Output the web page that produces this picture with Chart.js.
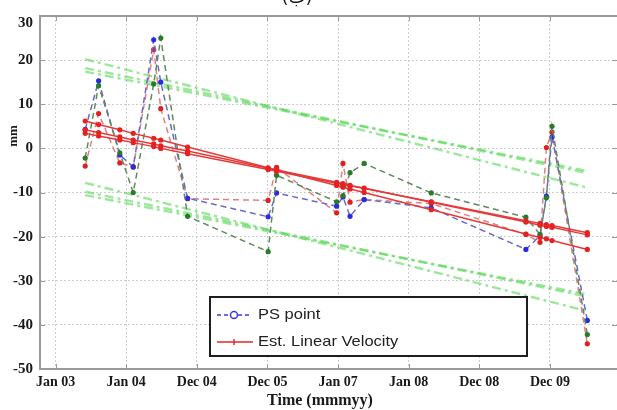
<!DOCTYPE html>
<html>
<head>
<meta charset="utf-8">
<script src="https://cdn.jsdelivr.net/npm/chart.js@4.4.1/dist/chart.umd.min.js"></script>
<style>
  html, body { margin: 0; padding: 0; background: #ffffff; }
  #wrap { position: relative; width: 617px; height: 410px; }
</style>
</head>
<body>
<div id="wrap"><canvas id="chart" width="617" height="410"></canvas></div>
<script>
/* global Chart */

// time axis in "tick units": 0 = Jan 03, 1 = Jan 04 ... 7 = Dec 09
const X_TICK_LABELS = ["Jan 03", "Jan 04", "Dec 04", "Dec 05", "Jan 07", "Jan 08", "Dec 08", "Dec 09"];
const Y_TICKS = [-50, -40, -30, -20, -10, 0, 10, 20, 30];

const OBS_TIME = [0.42, 0.61, 0.91, 1.10, 1.39, 1.49, 1.87, 3.01, 3.13, 3.98, 4.07, 4.17, 4.37, 5.32, 6.66, 6.86, 6.95, 7.03, 7.53];

// PS point displacement series (mm)
const PS_BLUE = [4.3, 15.3, -1.5, -4.2, 24.6, 15.0, -11.3, -15.5, -10.1, -13.1, -11.0, -15.4, -11.6, -13.5, -22.9, -19.8, -10.8, 2.6, -39.0];
const PS_GREEN = [-2.2, 14.2, -1.0, -10.0, 14.6, 25.0, -15.4, -23.4, -6.1, -12.1, -10.7, -5.5, -3.4, -10.1, -15.6, -19.5, -11.2, 5.0, -42.2];
const PS_RED = [-4.0, 7.9, -3.3, -4.2, 22.4, 9.0, -11.4, -11.8, -4.3, -14.6, -3.4, -12.2, -11.6, -12.5, -19.5, -21.3, 0.2, 3.7, -44.3];

// estimated linear velocity lines (mm)
const VEL_A = [6.2, 5.4, 4.2, 3.4, 2.3, 1.9, 0.3, -4.4, -4.9, -8.4, -8.8, -9.2, -10.0, -13.9, -19.4, -20.2, -20.5, -20.9, -22.9];
const VEL_B = [4.2, 3.6, 2.6, 1.9, 1.0, 0.6, -0.6, -4.5, -4.9, -7.7, -8.0, -8.4, -9.0, -12.2, -16.7, -17.4, -17.7, -17.9, -19.6];
const VEL_C = [3.4, 2.8, 1.9, 1.3, 0.4, 0.0, -1.2, -4.8, -5.2, -7.9, -8.2, -8.5, -9.1, -12.1, -16.4, -17.0, -17.3, -17.5, -19.1];

// confidence bands (start, end)
const BAND_TIME = [0.42, 7.53];
const BAND_UPPER_A = [20.2, -8.9];
const BAND_UPPER_B = [18.2, -5.6];
const BAND_UPPER_C = [17.4, -5.1];
const BAND_LOWER_A = [-7.8, -36.9];
const BAND_LOWER_B = [-9.8, -33.6];
const BAND_LOWER_C = [-10.6, -33.1];

const LEGEND_PS = "PS point";
const LEGEND_VEL = "Est. Linear Velocity";
const X_TITLE = "Time (mmmyy)";
const Y_TITLE = "mm";
const PANEL_TITLE = "(ب)";

const SERIF = "'Liberation Serif', 'Times New Roman', serif";
const FRAME_COLOR = "#9a9a9a";

function toPoints(times, values) {
    return times.map((t, i) => ({ x: t, y: values[i] }));
}

function psDataset(values, lineColor, markColor) {
    return {
        data: toPoints(OBS_TIME, values),
        borderColor: lineColor,
        borderWidth: 1.5,
        borderDash: [6, 4],
        pointRadius: 2.6,
        pointBackgroundColor: markColor,
        pointBorderColor: markColor,
        pointBorderWidth: 0,
        order: 1,
    };
}

function velDataset(values) {
    return {
        data: toPoints(OBS_TIME, values),
        borderColor: "#e43a3a",
        borderWidth: 1.5,
        pointRadius: 2.6,
        pointBackgroundColor: "#e42222",
        pointBorderWidth: 0,
        order: 0,
    };
}

function bandDataset(values) {
    return {
        data: toPoints(BAND_TIME, values),
        borderColor: "rgba(90, 215, 90, 0.6)",
        borderWidth: 2.4,
        borderDash: [9, 4, 3, 4],
        pointRadius: 0,
        order: 2,
    };
}

const decor = {
    id: "decor",
    beforeDatasetsDraw(chart) {
        const { ctx, chartArea: a, scales } = chart;
        ctx.save();
        ctx.strokeStyle = FRAME_COLOR;
        ctx.lineWidth = 1;
        scales.x.ticks.forEach((t) => {
            const x = Math.round(scales.x.getPixelForValue(t.value)) + 0.5;
            ctx.beginPath();
            ctx.moveTo(x, a.bottom); ctx.lineTo(x, a.bottom - 5);
            ctx.moveTo(x, a.top); ctx.lineTo(x, a.top + 5);
            ctx.stroke();
        });
        scales.y.ticks.forEach((t) => {
            const y = Math.round(scales.y.getPixelForValue(t.value)) + 0.5;
            ctx.beginPath();
            ctx.moveTo(a.left, y); ctx.lineTo(a.left + 5, y);
            ctx.moveTo(a.right, y); ctx.lineTo(a.right - 5, y);
            ctx.stroke();
        });
        ctx.restore();
    },
    afterDraw(chart) {
        const { ctx, chartArea: a, scales } = chart;
        ctx.save();
        // frame (right side falls just outside the picture)
        ctx.strokeStyle = FRAME_COLOR;
        ctx.lineWidth = 2;
        ctx.strokeRect(a.left, a.top, a.right - a.left + 2, a.bottom - a.top);

        // top y label sits a little lower in the source
        ctx.fillStyle = "#1a1a1a";
        ctx.font = "bold 15px " + SERIF;
        ctx.textAlign = "right";
        ctx.textBaseline = "middle";
        ctx.fillText(String(Y_TICKS[Y_TICKS.length - 1]), a.left - 7, scales.y.getPixelForValue(30) + 7);

        // axis titles
        ctx.font = "bold 16px " + SERIF;
        ctx.textAlign = "center";
        ctx.fillText(X_TITLE, 320, 401);
        ctx.save();
        ctx.translate(14, 136);
        ctx.rotate(-Math.PI / 2);
        ctx.font = "bold 13px " + SERIF;
        ctx.fillText(Y_TITLE, 0, 0);
        ctx.restore();

        // panel title, cut by the top edge
        ctx.font = "18px 'DejaVu Sans', sans-serif";
        ctx.textBaseline = "alphabetic";
        ctx.fillText(PANEL_TITLE, 297, 3);

        // legend box
        ctx.fillStyle = "#ffffff";
        ctx.fillRect(210, 297, 317, 59);
        ctx.strokeStyle = "#1e1e1e";
        ctx.lineWidth = 2;
        ctx.strokeRect(210, 297, 317, 59);

        ctx.strokeStyle = "#3a3ae0";
        ctx.lineWidth = 1.5;
        ctx.setLineDash([4, 3]);
        ctx.beginPath();
        ctx.moveTo(217, 315); ctx.lineTo(252, 315);
        ctx.stroke();
        ctx.setLineDash([]);
        ctx.fillStyle = "#ffffff";
        ctx.beginPath();
        ctx.arc(234, 315, 3.5, 0, Math.PI * 2);
        ctx.fill();
        ctx.stroke();

        ctx.strokeStyle = "#e42a2a";
        ctx.beginPath();
        ctx.moveTo(217, 342); ctx.lineTo(253, 342);
        ctx.moveTo(234, 339); ctx.lineTo(234, 345);
        ctx.stroke();

        ctx.fillStyle = "#222222";
        ctx.font = "15px 'Liberation Sans', Arial, sans-serif";
        ctx.textAlign = "left";
        ctx.textBaseline = "middle";
        [[LEGEND_PS, 315], [LEGEND_VEL, 342]].forEach(([txt, y]) => {
            ctx.save();
            ctx.translate(258, y);
            ctx.scale(1.1, 1);
            ctx.fillText(txt, 0, 0);
            ctx.restore();
        });
        ctx.restore();
    },
};

new Chart(document.getElementById("chart"), {
    type: "line",
    data: {
        datasets: [
            bandDataset(BAND_UPPER_A),
            bandDataset(BAND_UPPER_B),
            bandDataset(BAND_UPPER_C),
            bandDataset(BAND_LOWER_A),
            bandDataset(BAND_LOWER_B),
            bandDataset(BAND_LOWER_C),
            psDataset(PS_GREEN, "#5e8a5e", "#2a7a2a"),
            psDataset(PS_BLUE, "#6a6ac8", "#2a2ae0"),
            psDataset(PS_RED, "#e08080", "#e02020"),
            velDataset(VEL_A),
            velDataset(VEL_B),
            velDataset(VEL_C),
        ],
    },
    options: {
        responsive: false,
        animation: false,
        layout: { autoPadding: false, padding: { top: 11, right: 0, left: 0, bottom: 0 } },
        plugins: {
            legend: { display: false },
            tooltip: { enabled: false },
        },
        scales: {
            x: {
                type: "linear",
                min: -0.22,
                max: 7.95,
                afterFit: (scale) => { scale.height = 41; },
                afterBuildTicks: (scale) => {
                    scale.ticks = X_TICK_LABELS.map((_, i) => ({ value: i }));
                },
                ticks: {
                    color: "#1a1a1a",
                    padding: 5,
                    maxRotation: 0,
                    autoSkip: false,
                    font: { family: SERIF, size: 14, weight: "bold" },
                    callback: (v) => X_TICK_LABELS[v] || "",
                },
                grid: { color: "#cdcdcd", drawTicks: false },
                border: { display: false, dash: [2, 2] },
            },
            y: {
                type: "linear",
                min: Y_TICKS[0],
                max: Y_TICKS[Y_TICKS.length - 1],
                afterFit: (scale) => { scale.width = 40; },
                afterBuildTicks: (scale) => {
                    scale.ticks = Y_TICKS.map((v) => ({ value: v }));
                },
                ticks: {
                    color: "#1a1a1a",
                    padding: 7,
                    font: { family: SERIF, size: 15, weight: "bold" },
                    callback: (v) => (v === Y_TICKS[Y_TICKS.length - 1] ? "" : String(v)),
                },
                grid: { color: "#cdcdcd", drawTicks: false },
                border: { display: false, dash: [2, 2] },
            },
        },
    },
    plugins: [decor],
});
</script>
</body>
</html>
